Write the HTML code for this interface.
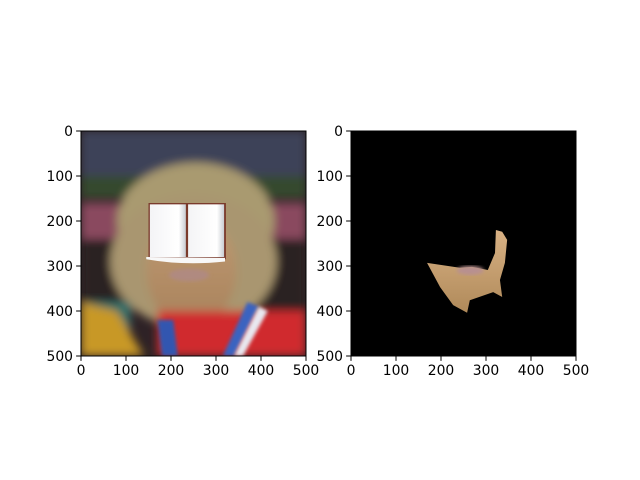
<!DOCTYPE html>
<html><head><meta charset="utf-8"><style>
html,body{margin:0;padding:0;background:#fff;width:640px;height:480px;overflow:hidden}
svg text{font-family:"DejaVu Sans","Liberation Sans",sans-serif;font-size:13.9px;fill:#000}
</style></head><body>
<svg id="fig" width="640" height="480" xmlns="http://www.w3.org/2000/svg">
<defs>
<filter id="blur" x="-20%" y="-20%" width="140%" height="140%"><feGaussianBlur stdDeviation="10"/></filter>
<filter id="blur2"><feGaussianBlur stdDeviation="4"/></filter>
<clipPath id="clipL"><rect x="0" y="0" width="500" height="500"/></clipPath>
<linearGradient id="page" x1="0" x2="1"><stop offset="0" stop-color="#f4f4f6"/><stop offset="0.8" stop-color="#ffffff"/><stop offset="1" stop-color="#c9cdd3"/></linearGradient>
<linearGradient id="face" x1="0" y1="0" x2="0" y2="1"><stop offset="0" stop-color="#c09a72"/><stop offset="1" stop-color="#a8825c"/></linearGradient>
<linearGradient id="mask" x1="0" y1="0" x2="0" y2="1"><stop offset="0" stop-color="#d8b184"/><stop offset="1" stop-color="#b08a5a"/></linearGradient>
</defs>
<g id="imgL" transform="translate(81,131) scale(0.45)" clip-path="url(#clipL)">
 <rect x="0" y="0" width="500" height="500" fill="#2e2226"/>
 <g filter="url(#blur)">
  <rect x="0" y="0" width="500" height="110" fill="#3e4258"/>
  <rect x="0" y="100" width="500" height="50" fill="#34482f"/>
  <rect x="0" y="160" width="500" height="80" fill="#8a4a5e"/>
  <rect x="0" y="240" width="500" height="160" fill="#2c2024"/>
  <ellipse cx="255" cy="200" rx="175" ry="130" fill="#a99a70"/>
  <ellipse cx="250" cy="290" rx="185" ry="150" fill="#a99670"/>
  <ellipse cx="245" cy="310" rx="100" ry="125" fill="url(#face)"/>
  <rect x="0" y="380" width="110" height="120" fill="#2b6f6a"/>
  <path d="M0 380 L80 400 L140 500 L0 500Z" fill="#c89828"/>
  <rect x="170" y="400" width="330" height="100" fill="#d02a2e"/>
 </g>
 <path d="M170 420 L205 420 L215 500 L180 500Z" fill="#3057b0" filter="url(#blur2)"/>
 <path d="M370 380 L395 390 L340 500 L315 500Z" fill="#3a64c0" filter="url(#blur2)"/>
 <path d="M395 390 L415 400 L360 500 L340 500Z" fill="#e8e8f0" filter="url(#blur2)"/>
 <ellipse cx="240" cy="320" rx="45" ry="14" fill="#b08a80" filter="url(#blur2)"/>
 <rect x="150" y="160" width="172" height="125" fill="#7a3a2c"/>
 <rect x="153" y="163" width="80" height="117" fill="url(#page)"/>
 <rect x="238" y="163" width="80" height="117" fill="url(#page)"/>
 <path d="M145 285 Q230 300 320 290 L320 282 L145 280Z" fill="#f8f8f8"/>
</g>
<rect x="81" y="131" width="225" height="225" fill="none" stroke="#000" stroke-width="1"/>
<g id="imgR">
 <rect x="351" y="131" width="225" height="225" fill="#000"/>
 <g transform="translate(351,131) scale(0.45)">
  <polygon points="169,293 242,304 269,302 304,309 320,271 322,220 336,224 347,242 342,293 331,331 336,369 316,358 264,376 258,404 227,387 198,347" fill="url(#mask)"/>
  <ellipse cx="265" cy="310" rx="30" ry="10" fill="#b89090" filter="url(#blur2)"/>
 </g>
</g>
<rect x="351" y="131" width="225" height="225" fill="none" stroke="#000" stroke-width="1"/>
<g id="axes"></g>
</svg>
<script>
const xTicks=[0,100,200,300,400,500];
const yTicks=[0,100,200,300,400,500];
const panels=[{x0:81,name:'left'},{x0:351,name:'right'}];
const y0=131,size=225,dmax=500;
const NS='http://www.w3.org/2000/svg';
const g=document.getElementById('axes');
function mk(t,a){const e=document.createElementNS(NS,t);for(const k in a)e.setAttribute(k,a[k]);g.appendChild(e);return e;}
panels.forEach(p=>{
 const sx=v=>p.x0+v/dmax*size, sy=v=>y0+v/dmax*size;
 xTicks.forEach(v=>{
  const l=mk('line',{x1:sx(v),x2:sx(v),y1:y0+size,y2:y0+size+4.9,stroke:'#000'});
  
  
  const t=mk('text',{x:sx(v),y:y0+size+19,'text-anchor':'middle'});t.textContent=v;
  
  
 });
 yTicks.forEach(v=>{
  const l=mk('line',{x1:p.x0-4.9,x2:p.x0,y1:sy(v),y2:sy(v),stroke:'#000'});
  
  
  const t=mk('text',{x:p.x0-8,y:sy(v)+5,'text-anchor':'end'});t.textContent=v;
  
  
 });
});
</script>
</body></html>
